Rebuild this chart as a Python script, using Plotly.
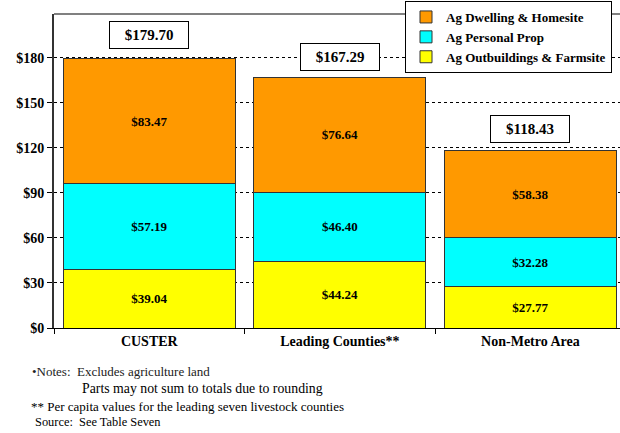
import plotly.graph_objects as go

categories = ["CUSTER", "Leading Counties**", "Non-Metro Area"]
outbuildings = [39.04, 44.24, 27.77]
personal_prop = [57.19, 46.40, 32.28]
dwelling = [83.47, 76.64, 58.38]
totals = [179.70, 167.29, 118.43]
y_ticks = [0, 30, 60, 90, 120, 150, 180]
y_tick_labels = ["$0", "$30", "$60", "$90", "$120", "$150", "$180"]

series = [
    ("Ag Outbuildings & Farmsite", outbuildings, "#FFFF00"),
    ("Ag Personal Prop", personal_prop, "#00FFFF"),
    ("Ag Dwelling & Homesite", dwelling, "#FF9900"),
]

SERIF = "Liberation Serif, Times New Roman, serif"
W, H = 620, 433
L, R, T, B = 54, 0, 14, 105
PW, PH = W - L - R, H - T - B

fig = go.Figure()
for name, vals, color in series:
    fig.add_trace(go.Bar(
        name=name, x=categories, y=vals,
        marker=dict(color=color, line=dict(color="#333333", width=1)),
        text=[f"${v:.2f}" for v in vals],
        textposition="inside", insidetextanchor="middle", textangle=0,
        constraintext="none",
        insidetextfont=dict(family=SERIF, size=13, color="black", weight="bold"),
        hoverinfo="skip",
    ))

total_shift = [23, 20, 21]
for cat, tot, sh in zip(categories, totals, total_shift):
    fig.add_annotation(
        x=cat, y=tot, xref="x", yref="y", text=f"${tot:.2f}",
        showarrow=False, yshift=sh, yanchor="middle",
        font=dict(family=SERIF, size=15, color="black", weight="bold"),
        bgcolor="white", bordercolor="black", borderwidth=1, borderpad=1,
        width=76, height=24,
    )

notes = [
    ("\u2022Notes:  Excludes agriculture land", 30, 371, "#222222", 13),
    ("Parts may not sum to totals due to rounding", 80, 388, "black", 13.8),
    ("** Per capita values for the leading seven livestock counties", 29, 406, "black", 13),
    ("Source:  See Table Seven", 33, 422, "black", 12.4),
]
for txt, px, py, col, fs in notes:
    fig.add_annotation(
        x=(px - L) / PW, y=(H - B - py) / PH, xref="paper", yref="paper",
        text=txt, showarrow=False, xanchor="left", yanchor="middle",
        font=dict(family=SERIF, size=fs, color=col),
    )

fig.add_shape(type="line", xref="paper", yref="paper", x0=0, x1=1, y0=1, y1=1,
              line=dict(color="#808080", width=2))

fig.update_layout(
    width=W, height=H,
    margin=dict(l=L, r=R, t=T, b=B, autoexpand=False),
    paper_bgcolor="white", plot_bgcolor="white",
    barmode="stack", bargap=0.097,
    font=dict(family=SERIF, color="black"),
    legend=dict(
        traceorder="reversed", x=(612 - L) / PW, xanchor="right",
        y=(H - B - 1) / PH, yanchor="top",
        bgcolor="white", bordercolor="black", borderwidth=1,
        font=dict(family=SERIF, size=13, color="black", weight="bold"),
        tracegroupgap=0, itemwidth=30,
    ),
    xaxis=dict(
        range=[-0.5, 2.47], showline=True, linecolor="black", linewidth=1,
        ticks="outside", tickson="boundaries", ticklen=5, tickcolor="black",
        showgrid=False,
        tickfont=dict(family=SERIF, size=14, color="black", weight="bold"),
    ),
    yaxis=dict(
        range=[0, 209.3], tickvals=y_ticks, ticktext=y_tick_labels,
        showline=True, linecolor="#333333", linewidth=2,
        ticks="outside", ticklen=5, tickcolor="black",
        showgrid=True, gridcolor="black", griddash="dot", gridwidth=1,
        zeroline=False,
        tickfont=dict(family=SERIF, size=14, color="black", weight="bold"),
    ),
)

fig.write_html(
    "out.html",
    config={"displayModeBar": False},
    post_script="document.body.style.margin='0';document.body.style.padding='0';",
)
